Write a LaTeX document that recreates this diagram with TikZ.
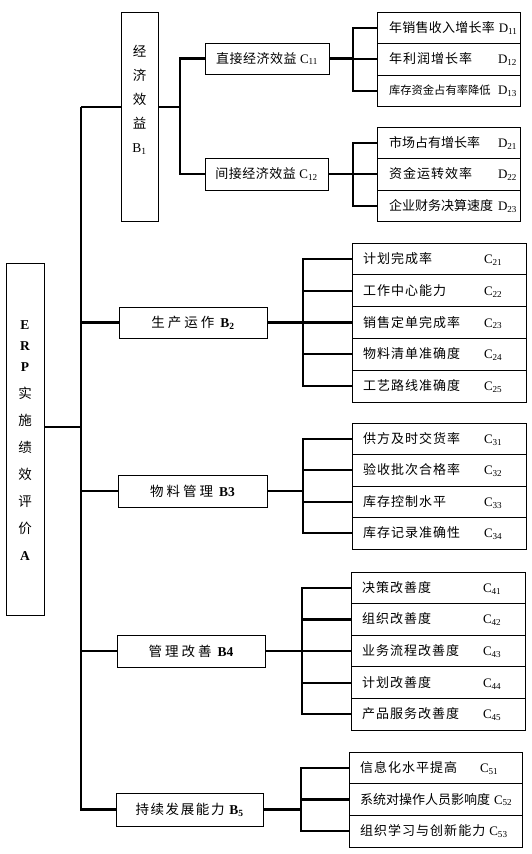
\documentclass[tikz,border=0pt]{standalone}
\usepackage{fontspec}
\setmainfont{Noto Sans CJK SC}
\newfontfamily\lat{Liberation Serif}
\newcommand\mylab[2]{{\lat\fontsize{13}{15}\selectfont #1\textsubscript{#2}}}
\newcommand\crow[3]{\hbox to #1{\hspace{11pt}#2\hspace{4pt plus 1fill}\makebox[26pt][l]{#3}\hspace{16pt minus 16pt}}}
\newcommand\drow[3]{\hbox to #1{\hspace{12pt}#2\hspace{4pt plus 1fill}\makebox[21pt][l]{#3}\hspace{1pt minus 1pt}}}
\begin{document}
\begin{tikzpicture}[x=1pt,y=-1pt,
  every node/.style={inner sep=0pt, outer sep=0pt},
  box/.style={draw, line width=1pt},
  conn/.style={line width=2.2pt},
  rowtxt/.style={font=\fontsize{13}{15}\selectfont\addfontfeature{LetterSpace=8}},
  btxt/.style={font=\fontsize{13.5}{16}\selectfont\addfontfeature{LetterSpace=22}}]
\fill[white] (0,0) rectangle (531,854);
\useasboundingbox (0,0) rectangle (531,854);

% ---- A ----
\node[box, minimum width=38, minimum height=352] (A) at (25,439) {};
\node[align=center, font=\fontsize{13.5}{21}\selectfont] (Atxt) at (25,441)
  {{\lat\bfseries E}\\{\lat\bfseries R}\\{\lat\bfseries P}\\[6pt]实\\[6pt]施\\[6pt]绩\\[6pt]效\\[6pt]评\\[6pt]价\\[6pt]{\lat\bfseries A}};

% ---- B level ----
\node[box, minimum width=37, minimum height=209] (B1) at (139.5,116.5) {};
\node[align=center, font=\fontsize{13.5}{24}\selectfont] (B1txt) at (139.5,100)
  {经\\济\\效\\益\\{\lat B\textsubscript{1}}};
\node[box, btxt, minimum width=148, minimum height=31] (B2) at (193,322.5) {生产运作 {\lat\bfseries B\textsubscript{2}}};
\node[box, btxt, minimum width=149, minimum height=32] (B3) at (192.5,491) {物料管理 {\lat\bfseries B3}};
\node[box, btxt, minimum width=148, minimum height=32] (B4) at (191,651) {管理改善 {\lat\bfseries B4}};
\node[box, minimum width=147, minimum height=33, font=\fontsize{13.5}{16}\selectfont\addfontfeature{LetterSpace=12}] (B5) at (189.5,809.5) {持续发展能力 {\lat\bfseries B\textsubscript{5}}};

% ---- C1x ----
\node[box, minimum width=124, minimum height=31, font=\fontsize{13}{15}\selectfont\addfontfeature{LetterSpace=4}] (C11) at (267,58.5) {直接经济效益 \mylab{C}{11}};
\node[box, minimum width=123, minimum height=32, font=\fontsize{13}{15}\selectfont\addfontfeature{LetterSpace=4}] (C12) at (266.5,174) {间接经济效益 \mylab{C}{12}};

% ---- D groups ----
\node[box, rowtxt, minimum width=143, minimum height=31.5] (D11) at (448.5,27.75) {\drow{143pt}{\addfontfeature{LetterSpace=2}年销售收入增长率}{\mylab{D}{11}}};
\node[box, rowtxt, minimum width=143, minimum height=31.5] (D12) at (448.5,59.25) {\drow{143pt}{年利润增长率}{\mylab{D}{12}}};
\node[box, rowtxt, minimum width=143, minimum height=31.5] (D13) at (448.5,90.75) {\drow{143pt}{\fontsize{11.3}{14}\selectfont\addfontfeature{LetterSpace=0}库存资金占有率降低}{\mylab{D}{13}}};

\node[box, rowtxt, minimum width=143, minimum height=31.5] (D21) at (448.5,142.75) {\drow{143pt}{\addfontfeature{LetterSpace=0}市场占有增长率}{\mylab{D}{21}}};
\node[box, rowtxt, minimum width=143, minimum height=31.5] (D22) at (448.5,174.25) {\drow{143pt}{资金运转效率}{\mylab{D}{22}}};
\node[box, rowtxt, minimum width=143, minimum height=31.5] (D23) at (448.5,205.75) {\drow{143pt}{\addfontfeature{LetterSpace=0}企业财务决算速度}{\mylab{D}{23}}};

% ---- C2 group ----
\node[box, rowtxt, minimum width=174, minimum height=31.8] (C21) at (439,258.9) {\crow{174pt}{计划完成率}{\mylab{C}{21}}};
\node[box, rowtxt, minimum width=174, minimum height=31.8] (C22) at (439,290.7) {\crow{174pt}{工作中心能力}{\mylab{C}{22}}};
\node[box, rowtxt, minimum width=174, minimum height=31.8] (C23) at (439,322.5) {\crow{174pt}{销售定单完成率}{\mylab{C}{23}}};
\node[box, rowtxt, minimum width=174, minimum height=31.8] (C24) at (439,354.3) {\crow{174pt}{物料清单准确度}{\mylab{C}{24}}};
\node[box, rowtxt, minimum width=174, minimum height=31.8] (C25) at (439,386.1) {\crow{174pt}{工艺路线准确度}{\mylab{C}{25}}};

% ---- C3 group ----
\node[box, rowtxt, minimum width=174, minimum height=31.5] (C31) at (439,438.75) {\crow{174pt}{供方及时交货率}{\mylab{C}{31}}};
\node[box, rowtxt, minimum width=174, minimum height=31.5] (C32) at (439,470.25) {\crow{174pt}{验收批次合格率}{\mylab{C}{32}}};
\node[box, rowtxt, minimum width=174, minimum height=31.5] (C33) at (439,501.75) {\crow{174pt}{库存控制水平}{\mylab{C}{33}}};
\node[box, rowtxt, minimum width=174, minimum height=31.5] (C34) at (439,533.25) {\crow{174pt}{库存记录准确性}{\mylab{C}{34}}};

% ---- C4 group ----
\node[box, rowtxt, minimum width=174, minimum height=31.6] (C41) at (438,587.8) {\crow{174pt}{决策改善度}{\mylab{C}{41}}};
\node[box, rowtxt, minimum width=174, minimum height=31.6] (C42) at (438,619.4) {\crow{174pt}{组织改善度}{\mylab{C}{42}}};
\node[box, rowtxt, minimum width=174, minimum height=31.6] (C43) at (438,651) {\crow{174pt}{业务流程改善度}{\mylab{C}{43}}};
\node[box, rowtxt, minimum width=174, minimum height=31.6] (C44) at (438,682.6) {\crow{174pt}{计划改善度}{\mylab{C}{44}}};
\node[box, rowtxt, minimum width=174, minimum height=31.6] (C45) at (438,714.2) {\crow{174pt}{产品服务改善度}{\mylab{C}{45}}};

% ---- C5 group ----
\node[box, rowtxt, minimum width=173, minimum height=31.7] (C51) at (435.5,767.85) {\crow{173pt}{信息化水平提高}{\mylab{C}{51}}};
\node[box, rowtxt, minimum width=173, minimum height=31.7] (C52) at (435.5,799.55) {\crow{173pt}{\addfontfeature{LetterSpace=0}系统对操作人员影响度}{\mylab{C}{52}}};
\node[box, rowtxt, minimum width=173, minimum height=31.7] (C53) at (435.5,831.25) {\crow{173pt}{组织学习与创新能力}{\mylab{C}{53}}};

% ---- connectors: trunk ----
\coordinate (T0) at (81,427);
\coordinate (T1) at (81,107);
\draw[conn] (T1) -- (B5.west -| T1) -- (B5.west);
\draw[conn] (A.east |- T0) -- (T0);
\draw[conn] (T1) -- (T1 -| B1.west);
\foreach \b in {B2,B3,B4} \draw[conn] (\b.west -| T1) -- (\b.west);

% ---- B1 bracket ----
\coordinate (K1) at (180,107);
\draw[conn] (B1.east |- K1) -- (K1);
\draw[conn] (C11.west) -- (C11.west -| K1) -- (C12.west -| K1) -- (C12.west);

% ---- D brackets ----
\coordinate (KD) at (353,0);
\draw[conn] (C11.east) -- (C11.east -| KD);
\draw[conn] (D11.west) -- (D11.west -| KD) -- (D13.west -| KD) -- (D13.west);
\draw[conn] (D12.west -| KD) -- (D12.west);
\draw[conn] (C12.east) -- (C12.east -| KD);
\draw[conn] (D21.west) -- (D21.west -| KD) -- (D23.west -| KD) -- (D23.west);
\draw[conn] (D22.west -| KD) -- (D22.west);

% ---- C2 bracket ----
\coordinate (K2) at (303,0);
\draw[conn] (B2.east) -- (B2.east -| K2);
\draw[conn] (C21.west) -- (C21.west -| K2) -- (C25.west -| K2) -- (C25.west);
\foreach \r in {C22,C23,C24} \draw[conn] (\r.west -| K2) -- (\r.west);

% ---- C3 bracket ----
\coordinate (K3) at (303,0);
\draw[conn] (B3.east) -- (B3.east -| K3);
\draw[conn] (C31.west) -- (C31.west -| K3) -- (C34.west -| K3) -- (C34.west);
\foreach \r in {C32,C33} \draw[conn] (\r.west -| K3) -- (\r.west);

% ---- C4 bracket ----
\coordinate (K4) at (302,0);
\draw[conn] (B4.east) -- (B4.east -| K4);
\draw[conn] (C41.west) -- (C41.west -| K4) -- (C45.west -| K4) -- (C45.west);
\foreach \r in {C42,C43,C44} \draw[conn] (\r.west -| K4) -- (\r.west);

% ---- C5 bracket ----
\coordinate (K5) at (301,0);
\draw[conn] (B5.east) -- (B5.east -| K5);
\draw[conn] (C51.west) -- (C51.west -| K5) -- (C53.west -| K5) -- (C53.west);
\draw[conn] (C52.west -| K5) -- (C52.west);
\end{tikzpicture}
\end{document}
